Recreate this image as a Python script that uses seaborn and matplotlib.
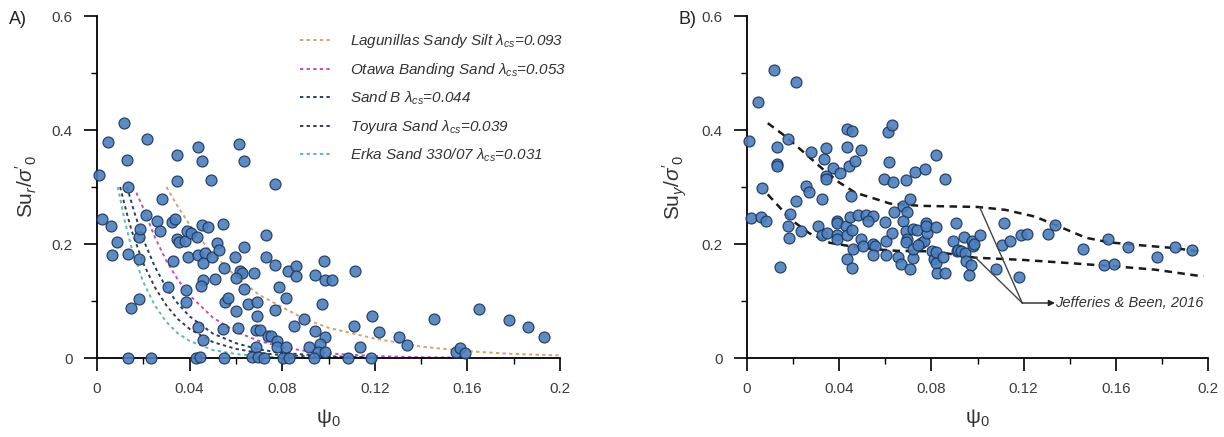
import numpy as np
import pandas as pd
import matplotlib
matplotlib.use("Agg")
import matplotlib.pyplot as plt
import seaborn as sns

# ---------------- data ----------------
# Panel A: residual strength ratio vs state parameter
a_x = [0.0118, 0.0049, 0.0215, 0.0130, 0.0007, 0.0134, 0.0344, 0.0435, 0.0455, 0.0344,
       0.0493, 0.0614, 0.0633, 0.0771, 0.0279, 0.0020, 0.0060, 0.0087, 0.0065, 0.0132,
       0.0180, 0.0187, 0.0212, 0.0180, 0.0258, 0.0270, 0.0324, 0.0337, 0.0344, 0.0353,
       0.0378, 0.0389, 0.0405, 0.0431, 0.0454, 0.0480, 0.0546, 0.0394, 0.0435, 0.0468,
       0.0460, 0.0496, 0.0519, 0.0526, 0.0549, 0.0597, 0.0634, 0.0618, 0.0627, 0.0601,
       0.0680, 0.0731, 0.0731, 0.0768, 0.0826, 0.0858, 0.0858, 0.0327, 0.0457, 0.0510,
       0.0450, 0.0308, 0.0385, 0.0385, 0.0183, 0.0145, 0.0553, 0.0565, 0.0601, 0.0654,
       0.0692, 0.0692, 0.0768, 0.0786, 0.0817, 0.0634, 0.0435, 0.0457, 0.0546, 0.0608,
       0.0688, 0.0702, 0.0740, 0.0753, 0.0778, 0.0778, 0.0815, 0.0688, 0.0133, 0.0233,
       0.0428, 0.0447, 0.0550, 0.0670, 0.0695, 0.0720, 0.0803, 0.0829, 0.0940, 0.0979,
       0.0983, 0.1015, 0.1116, 0.0973, 0.0894, 0.0853, 0.0943, 0.0983, 0.0962, 0.0915,
       0.0954, 0.0987, 0.1109, 0.1190, 0.1217, 0.1138, 0.1306, 0.1340, 0.1456, 0.1550,
       0.1570, 0.1590, 0.0937, 0.1084, 0.1182, 0.1652, 0.1780, 0.1860, 0.1933]
a_y = [0.412, 0.379, 0.385, 0.347, 0.321, 0.300, 0.357, 0.370, 0.346, 0.311,
       0.313, 0.375, 0.345, 0.305, 0.279, 0.244, 0.231, 0.204, 0.180, 0.183,
       0.212, 0.227, 0.251, 0.174, 0.241, 0.222, 0.238, 0.244, 0.208, 0.203,
       0.206, 0.222, 0.220, 0.213, 0.233, 0.230, 0.235, 0.177, 0.180, 0.184,
       0.166, 0.177, 0.202, 0.189, 0.158, 0.177, 0.195, 0.153, 0.150, 0.141,
       0.150, 0.215, 0.178, 0.164, 0.152, 0.161, 0.143, 0.170, 0.137, 0.139,
       0.126, 0.124, 0.120, 0.099, 0.104, 0.087, 0.099, 0.106, 0.083, 0.095,
       0.098, 0.073, 0.085, 0.124, 0.105, 0.121, 0.054, 0.031, 0.051, 0.053,
       0.050, 0.050, 0.039, 0.038, 0.030, 0.019, 0.019, 0.020, 0.0, 0.0,
       0.0, 0.002, 0.0, 0.002, 0.002, 0.0, 0.0, 0.0, 0.145, 0.170,
       0.136, 0.136, 0.153, 0.095, 0.068, 0.057, 0.047, 0.036, 0.025, 0.019,
       0.010, 0.010, 0.057, 0.074, 0.046, 0.019, 0.036, 0.022, 0.068, 0.010,
       0.0175, 0.008, 0.0, 0.0, 0.0, 0.086, 0.067, 0.054, 0.036]

# Panel B: yield strength ratio vs state parameter
b_x = [0.0115, 0.0213, 0.0048, 0.0007, 0.0130, 0.0176, 0.0132, 0.0132, 0.0278, 0.0343,
       0.0334, 0.0435, 0.0457, 0.0435, 0.0493, 0.0444, 0.0468, 0.0375, 0.0404, 0.0343,
       0.0343, 0.0612, 0.0631, 0.0617, 0.0594, 0.0634, 0.0689, 0.0728, 0.0771, 0.0822,
       0.0858, 0.0065, 0.0257, 0.0269, 0.0212, 0.0324, 0.0451, 0.0187, 0.0180, 0.0183,
       0.0235, 0.0019, 0.0061, 0.0083, 0.0144, 0.0307, 0.0324, 0.0349, 0.0389, 0.0392,
       0.0430, 0.0447, 0.0480, 0.0516, 0.0548, 0.0389, 0.0389, 0.0433, 0.0454, 0.0458,
       0.0435, 0.0457, 0.0494, 0.0523, 0.0504, 0.0545, 0.0555, 0.0548, 0.0598, 0.0601,
       0.0627, 0.0605, 0.0637, 0.0677, 0.0692, 0.0709, 0.0677, 0.0689, 0.0692, 0.0689,
       0.0653, 0.0670, 0.0706, 0.0721, 0.0738, 0.0721, 0.0720, 0.0757, 0.0768, 0.0742,
       0.0776, 0.0781, 0.0778, 0.0822, 0.0804, 0.0811, 0.0822, 0.0826, 0.0858, 0.0819,
       0.0850, 0.0894, 0.0908, 0.0913, 0.0940, 0.0977, 0.0980, 0.0984, 0.1013, 0.0915,
       0.0930, 0.0944, 0.0952, 0.0973, 0.0961, 0.1081, 0.1182, 0.1107, 0.1139, 0.1114,
       0.1189, 0.1215, 0.1304, 0.1338, 0.1456, 0.1568, 0.1550, 0.1593, 0.1654, 0.1778,
       0.1857, 0.1932]
b_y = [0.506, 0.485, 0.449, 0.380, 0.371, 0.384, 0.340, 0.336, 0.361, 0.368,
       0.350, 0.402, 0.399, 0.370, 0.365, 0.336, 0.345, 0.333, 0.325, 0.319,
       0.314, 0.396, 0.408, 0.343, 0.314, 0.309, 0.312, 0.326, 0.332, 0.357,
       0.314, 0.299, 0.302, 0.291, 0.276, 0.279, 0.285, 0.253, 0.232, 0.211,
       0.222, 0.246, 0.247, 0.241, 0.160, 0.231, 0.216, 0.219, 0.241, 0.236,
       0.231, 0.247, 0.251, 0.251, 0.250, 0.216, 0.208, 0.215, 0.225, 0.191,
       0.173, 0.158, 0.209, 0.240, 0.196, 0.200, 0.196, 0.180, 0.238, 0.206,
       0.220, 0.180, 0.257, 0.267, 0.256, 0.279, 0.240, 0.222, 0.209, 0.203,
       0.177, 0.165, 0.157, 0.226, 0.225, 0.175, 0.191, 0.202, 0.205, 0.199,
       0.236, 0.219, 0.231, 0.230, 0.187, 0.174, 0.167, 0.150, 0.150, 0.186,
       0.178, 0.206, 0.236, 0.188, 0.212, 0.205, 0.196, 0.200, 0.215, 0.190,
       0.187, 0.184, 0.170, 0.164, 0.145, 0.156, 0.142, 0.199, 0.205, 0.236,
       0.215, 0.218, 0.218, 0.234, 0.191, 0.208, 0.164, 0.165, 0.195, 0.177,
       0.195, 0.189]

# Sand curves in panel A
lag_x = [0.030, 0.035, 0.040, 0.045, 0.050, 0.060, 0.070, 0.080, 0.090, 0.100, 0.120, 0.140, 0.160, 0.180, 0.200]
lag_y = [0.300, 0.265, 0.234, 0.207, 0.183, 0.143, 0.111, 0.089, 0.068, 0.053, 0.034, 0.020, 0.012, 0.007, 0.0045]
ota_x = [0.017, 0.020, 0.025, 0.030, 0.035, 0.040, 0.050, 0.060, 0.070, 0.080, 0.090, 0.100, 0.120, 0.140, 0.160]
ota_y = [0.290, 0.263, 0.212, 0.170, 0.137, 0.110, 0.071, 0.046, 0.030, 0.019, 0.0125, 0.008, 0.0034, 0.0014, 0.0006]
sandb_x = [0.013, 0.016, 0.020, 0.025, 0.030, 0.035, 0.040, 0.050, 0.060, 0.070, 0.080, 0.100, 0.120]
sandb_y = [0.300, 0.257, 0.208, 0.160, 0.123, 0.095, 0.073, 0.043, 0.026, 0.015, 0.009, 0.003, 0.001]
toy_x = [0.010, 0.013, 0.015, 0.020, 0.025, 0.030, 0.035, 0.040, 0.050, 0.060, 0.070, 0.080, 0.100, 0.120]
toy_y = [0.300, 0.252, 0.223, 0.166, 0.124, 0.092, 0.068, 0.051, 0.028, 0.016, 0.009, 0.005, 0.0015, 0.0005]
erka_x = [0.009, 0.012, 0.015, 0.020, 0.025, 0.030, 0.035, 0.040, 0.050, 0.060, 0.070, 0.080, 0.090]
erka_y = [0.300, 0.240, 0.192, 0.133, 0.092, 0.063, 0.043, 0.030, 0.014, 0.007, 0.003, 0.0015, 0.0007]

sand_labels = [r"Lagunillas Sandy Silt $\lambda_{cs}$=0.093",
               r"Otawa Banding Sand $\lambda_{cs}$=0.053",
               r"Sand B $\lambda_{cs}$=0.044",
               r"Toyura Sand $\lambda_{cs}$=0.039",
               r"Erka Sand 330/07 $\lambda_{cs}$=0.031"]
sand_colors = ["#d9a06b", "#c24fc0", "#1f3f70", "#3b3b4d", "#5fb8b8"]

# Jefferies & Been (2016) bounds in panel B
up_x = [0.009, 0.017, 0.026, 0.033, 0.040, 0.047, 0.055, 0.062, 0.075, 0.100, 0.112, 0.125, 0.137, 0.147, 0.157, 0.170, 0.185, 0.198]
up_y = [0.412, 0.388, 0.356, 0.331, 0.308, 0.290, 0.280, 0.271, 0.267, 0.265, 0.260, 0.248, 0.228, 0.211, 0.203, 0.198, 0.193, 0.186]
lo_x = [0.009, 0.019, 0.027, 0.036, 0.045, 0.055, 0.065, 0.081, 0.099, 0.120, 0.138, 0.159, 0.177, 0.198]
lo_y = [0.287, 0.243, 0.219, 0.202, 0.196, 0.191, 0.188, 0.187, 0.176, 0.172, 0.167, 0.161, 0.155, 0.143]

x_ticks = [0, 0.04, 0.08, 0.12, 0.16, 0.2]
x_ticklabels = ["0", "0.04", "0.08", "0.12", "0.16", "0.2"]
y_ticks = [0, 0.2, 0.4, 0.6]
y_ticklabels = ["0", "0.2", "0.4", "0.6"]

# ---------------- style ----------------
sns.set_style("ticks")
plt.rcParams["font.family"] = ["Liberation Sans", "DejaVu Sans"]
plt.rcParams["mathtext.fontset"] = "custom"
plt.rcParams["mathtext.rm"] = "Liberation Sans"
plt.rcParams["mathtext.it"] = "Liberation Sans:italic"

fig = plt.figure(figsize=(12.24, 4.37), dpi=100)
axA = fig.add_axes([97 / 1224, 79 / 437, 463 / 1224, 342 / 437])
axB = fig.add_axes([747 / 1224, 79 / 437, 461 / 1224, 342 / 437])

pt_face = "#4d7fbd"
pt_edge = "#1b365d"
tick_col = "#3c3c3c"


def style_axes(ax):
    ax.set_xlim(0, 0.2)
    ax.set_ylim(0, 0.6)
    for s in ["top", "right"]:
        ax.spines[s].set_visible(False)
    for s in ["left", "bottom"]:
        ax.spines[s].set_color("black")
        ax.spines[s].set_linewidth(1.3)
    ax.set_xticks(x_ticks)
    ax.set_xticklabels(x_ticklabels)
    ax.set_yticks(y_ticks)
    ax.set_yticklabels(y_ticklabels)
    ax.set_xticks([0.02, 0.06, 0.1, 0.14, 0.18], minor=True)
    ax.set_yticks([0.1, 0.3, 0.5], minor=True)
    ax.tick_params(axis="both", which="both", bottom=True, left=True, top=False, right=False)
    ax.tick_params(axis="both", which="major", direction="out", length=9.5, width=1.2,
                   color="black", labelsize=11, labelcolor=tick_col)
    ax.tick_params(axis="both", which="minor", direction="out", length=4.5, width=1.0,
                   color="black")
    ax.tick_params(axis="x", which="major", pad=8)
    ax.tick_params(axis="y", which="major", pad=8)
    ax.grid(False)
    ax.set_facecolor("white")


# ---------------- Panel A ----------------
style_axes(axA)
curves = [(lag_x, lag_y), (ota_x, ota_y), (sandb_x, sandb_y), (toy_x, toy_y), (erka_x, erka_y)]
handles = []
for (cx, cy), lab, col in zip(curves, sand_labels, sand_colors):
    df = pd.DataFrame({"x": cx, "y": cy})
    sns.lineplot(data=df, x="x", y="y", ax=axA, color=col, lw=1.4, sort=False,
                 estimator=None, linestyle=(0, (1.7, 1.7)), zorder=2)
    handles.append(axA.lines[-1])

dfA = pd.DataFrame({"psi": a_x, "su": a_y})
sns.scatterplot(data=dfA, x="psi", y="su", ax=axA, s=62, color=pt_face,
                edgecolor=pt_edge, linewidth=0.9, alpha=0.9, zorder=3, clip_on=False)

leg = axA.legend(handles, sand_labels, loc="upper left", bbox_to_anchor=(0.425, 0.97),
                 frameon=False, fontsize=11, handlelength=2.0, handletextpad=1.25,
                 labelspacing=0.7, borderaxespad=0)
for t in leg.get_texts():
    t.set_fontstyle("italic")
    t.set_color("#333333")

axA.set_xlabel(r"ψ$_{\mathregular{0}}$", fontsize=15, color="#333333", labelpad=8)
axA.set_ylabel(r"$\mathregular{Su}_r\mathregular{/}\sigma\mathregular{'}_{\mathregular{0}}$",
               fontsize=15, color="#333333", labelpad=9)

# ---------------- Panel B ----------------
style_axes(axB)
for cx, cy in [(up_x, up_y), (lo_x, lo_y)]:
    df = pd.DataFrame({"x": cx, "y": cy})
    sns.lineplot(data=df, x="x", y="y", ax=axB, color="#1a1a1a", lw=1.8, sort=False,
                 estimator=None, linestyle=(0, (3.0, 2.2)), zorder=2)

dfB = pd.DataFrame({"psi": b_x, "su": b_y})
sns.scatterplot(data=dfB, x="psi", y="su", ax=axB, s=62, color=pt_face,
                edgecolor=pt_edge, linewidth=0.9, alpha=0.9, zorder=3, clip_on=False)

# annotation
jx, jy = 0.1194, 0.0965
axB.plot([0.1009, jx], [0.265, jy], color="#444444", lw=1.0, zorder=4)
axB.plot([0.0992, jx], [0.176, jy], color="#444444", lw=1.0, zorder=4)
axB.annotate("", xy=(0.1336, jy), xytext=(jx, jy),
             arrowprops=dict(arrowstyle="-|>", color="#222222", lw=1.0,
                             mutation_scale=9, shrinkA=0, shrinkB=0), zorder=4)
axB.text(0.1338, jy, "Jefferies & Been, 2016", fontsize=10.5, fontstyle="italic",
         color="#333333", va="center", ha="left")

axB.set_xlabel(r"ψ$_{\mathregular{0}}$", fontsize=15, color="#333333", labelpad=8)
axB.set_ylabel(r"$\mathregular{Su}_y\mathregular{/}\sigma\mathregular{'}_{\mathregular{0}}$",
               fontsize=15, color="#333333", labelpad=9)

fig.text(9 / 1224, 1 - 19 / 437, "A)", fontsize=13, color="#222222", va="center")
fig.text(678 / 1224, 1 - 19 / 437, "B)", fontsize=13, color="#222222", va="center")

fig.savefig("out.png", dpi=100, facecolor="white")
